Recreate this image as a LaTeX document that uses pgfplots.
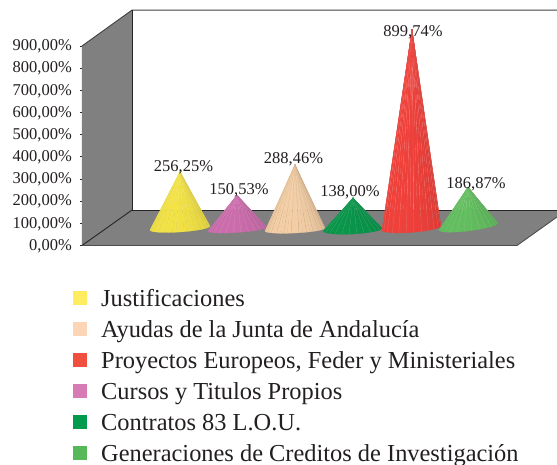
\documentclass[border=0pt]{standalone}
\usepackage{pgfplots}
\pgfplotsset{compat=1.18}
\usepackage{fontspec}
\setmainfont{Liberation Serif}
\definecolor{txt}{HTML}{231F20}
\definecolor{cY}{HTML}{F2E244}
\definecolor{cP}{HTML}{CC6CAC}
\definecolor{cA}{HTML}{F4CFA6}
\definecolor{cD}{HTML}{08964A}
\definecolor{cR}{HTML}{F0403A}
\definecolor{cG}{HTML}{62BE5E}
\definecolor{lgY}{HTML}{FFED5F}
\definecolor{lgA}{HTML}{FBD5B5}
\definecolor{lgR}{HTML}{F04E3E}
\definecolor{lgP}{HTML}{D67BB3}
\definecolor{lgD}{HTML}{009B4C}
\definecolor{lgG}{HTML}{57B85A}
% facets of one cone: left, right, bottom of the base in pixels; apex x; value; colour
\newcommand\cone[9]{%
 \pgfmathsetmacro\cx{(#1+#3)/2}\pgfmathsetmacro\cy{(#2+#4)/2}%
 \pgfplotsforeachungrouped \i in {0,...,23}{%
  \pgfmathsetmacro\ta{\i*7.5}\pgfmathsetmacro\tb{(\i+1)*7.5}%
  \pgfmathsetmacro\xa{\cx+cos(\ta)*(#1-\cx)+sin(\ta)*(#5-\cx)}%
  \pgfmathsetmacro\xb{\cx+cos(\tb)*(#1-\cx)+sin(\tb)*(#5-\cx)}%
  \pgfmathsetmacro\ya{(228.5-(\cy+cos(\ta)*(#2-\cy)+sin(\ta)*(#6-\cy)))/.2217}%
  \pgfmathsetmacro\yb{(228.5-(\cy+cos(\tb)*(#2-\cy)+sin(\tb)*(#6-\cy)))/.2217}%
  \pgfmathsetmacro\p{\i<8?100-4*((8-\i)/8)^2:100-11*((\i-8)/15)^2}%
  \pgfmathsetmacro\vis{mod(\i,2)==1?1:0}%
  \edef\temp{\noexpand\addplot[forget plot,yshift=17pt,fill=#9!\p!black,draw=#9!\p!black,line width=.2pt]
    coordinates {(#7,#8) (\xa,\ya) (\xb,\yb)} --cycle;}%
  \temp
  \ifdim\vis pt>0pt
   \edef\temp{\noexpand\addplot[forget plot,yshift=17pt,draw=\cn,opacity=.2,line width=.3pt]
    coordinates {(#7,#8) (\xa,\ya)};}%
   \temp
  \fi
 }%
}
\newcommand\vlabel[4]{\addplot[forget plot,draw=none,mark=none,nodes near coords={#3},
   every node near coord/.style={anchor=base,inner sep=0pt,text=txt,yshift=#4pt,font=\fontsize{16.5}{18}\selectfont}]
   coordinates {(#1,#2)};}
\begin{document}
\begin{tikzpicture}[x=1pt,y=1pt]
\path[use as bounding box] (-82,-219.5) rectangle (475,245.5);
\begin{axis}[
  scale only axis,width=435pt,height=199.5pt,
  xmin=82,xmax=517,ymin=0,ymax=900,clip=false,
  axis x line=none,axis y line=left,
  y axis line style={-,draw=black!85,line width=.9pt},
  ytick={0,100,...,900},
  tick style={draw=black!85,line width=.8pt},
  major tick length=4pt,
  tick pos=left,
  /pgf/number format/fixed,/pgf/number format/fixed zerofill,/pgf/number format/precision=2,
  /pgf/number format/use comma,/pgf/number format/1000 sep={},/pgf/number format/assume math mode=true,
  yticklabel={\pgfmathprintnumber{\tick}\%},
  ticklabel style={font=\fontsize{16.5}{18}\selectfont,text=txt,inner sep=0pt},
  y tick label style={xshift=-8pt,yshift=-.6pt},
  legend cell align=left,
  legend style={at={(-0.0207,-0.22)},anchor=north west,draw=none,fill=none,inner sep=0pt,
     font=\fontsize{24.4}{28}\selectfont,text=txt,
     nodes={inner sep=0pt,text height=16.5pt,text depth=5.5pt},
     /tikz/row sep=9pt},
  legend image code/.code={\fill[draw=none,#1] (0pt,-4pt) rectangle (14pt,10pt);\path[draw=none] (14pt,0) -- (28pt,0);},
]
% walls and floor
\addplot[forget plot,fill=white,draw=none] coordinates {(132,1062) (557,1062) (557,160) (132,160)} --cycle;
\addplot[forget plot,fill=black!50,draw=none] coordinates {(82,0) (82,900) (132,1062) (132,160)} --cycle;
\addplot[forget plot,fill=black!50,draw=none] coordinates {(82,0) (132,160) (557,160) (557,128.5) (517,0)} --cycle;
\addplot[forget plot,draw=black!75,line width=.9pt] coordinates {(82,900) (132,1062) (557,1062)};
\addplot[forget plot,draw=black!85,line width=.9pt] coordinates {(132,1062) (132,160) (557,160)};
\addplot[forget plot,draw=black!85,line width=.9pt] coordinates {(82,0) (132,160)};
\addplot[forget plot,draw=black!70,line width=.9pt] coordinates {(82,0) (517,0) (557,128.5)};
% cones
\def\cn{white}
\cone{150}{230}{210}{226}{180}{232}{180}{256.25}{cY}
\cone{208}{231}{267}{227}{237}{232.5}{237}{150.53}{cP}
\def\cn{black!50!cA}
\cone{265}{231}{325}{228}{295}{233}{295}{288.46}{cA}
\def\cn{white}
\cone{323}{231}{382}{228}{353}{234}{353}{138.00}{cD}
\cone{382}{230}{441}{226}{410}{232.5}{412}{899.74}{cR}
\cone{439}{230}{498}{223}{468}{231}{468}{186.87}{cG}
% labels
\vlabel{183.5}{256.25}{256,25\%}{17}
\vlabel{239}{150.53}{150,53\%}{18}
\vlabel{293.5}{288.46}{288,46\%}{18}
\vlabel{350}{138.00}{138,00\%}{18}
\vlabel{413}{899.74}{899,74\%}{10}
\vlabel{476}{186.87}{186,87\%}{16}
% legend
\addlegendimage{lgY}\addlegendentry{Justificaciones}
\addlegendimage{lgA}\addlegendentry{Ayudas de la Junta de Andalucía}
\addlegendimage{lgR}\addlegendentry{Proyectos Europeos, Feder y Ministeriales}
\addlegendimage{lgP}\addlegendentry{Cursos y Titulos Propios}
\addlegendimage{lgD}\addlegendentry{Contratos 83 L.O.U.}
\addlegendimage{lgG}\addlegendentry{Generaciones de Creditos de Investigación}
\end{axis}
\end{tikzpicture}
\end{document}
